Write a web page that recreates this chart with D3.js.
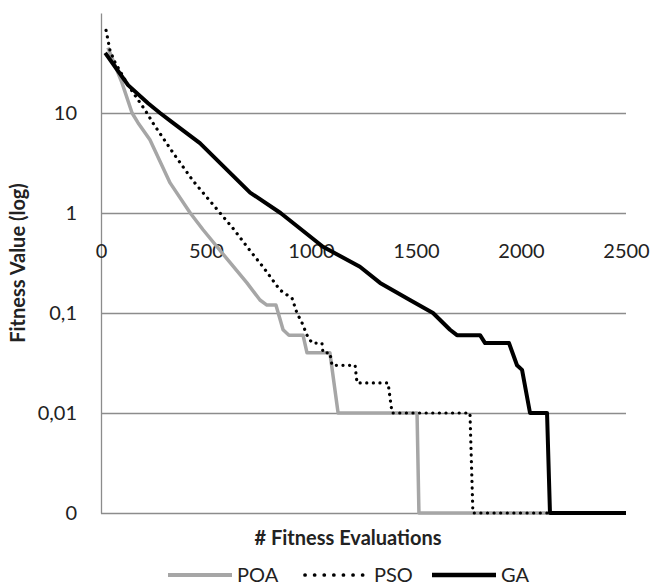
<!DOCTYPE html>
<html>
<head>
<meta charset="utf-8">
<script src="https://cdn.jsdelivr.net/npm/d3@7"></script>
<style>
  body { margin: 0; background: #fff; }
  text { font-family: Lato, "Liberation Sans", sans-serif; fill: #222; }
</style>
</head>
<body>
<svg id="chart" width="651" height="587"></svg>
<script>
// data (x = fitness evaluations, y = fitness value)
const poaX = [33, 100, 148, 176, 233, 329, 425, 486, 614, 695, 757, 790, 833, 867, 895, 962, 981, 1090, 1129, 1505, 1514, 2500];
const poaY = [45, 20, 10, 8, 5.4, 2.0, 1.0, 0.68, 0.32, 0.2, 0.135, 0.12, 0.12, 0.068, 0.06, 0.06, 0.04, 0.04, 0.01, 0.01, 0.001, 0.001];

const psoX = [24, 33, 43, 67, 129, 162, 210, 248, 343, 438, 567, 629, 710, 771, 852, 910, 933, 957, 981, 1005, 1052, 1057, 1090, 1100, 1210, 1219, 1367, 1386, 1757, 1771, 2500];
const psoY = [67, 54, 42, 32, 19, 15, 10.7, 7.9, 4.0, 2.1, 1.0, 0.7, 0.42, 0.29, 0.17, 0.14, 0.1, 0.08, 0.06, 0.05, 0.05, 0.04, 0.04, 0.03, 0.03, 0.02, 0.02, 0.01, 0.01, 0.001, 0.001];

const gaX = [20, 67, 129, 224, 281, 338, 471, 710, 855, 1057, 1233, 1329, 1471, 1581, 1662, 1695, 1805, 1829, 1943, 1981, 2005, 2043, 2124, 2138, 2500];
const gaY = [40, 29, 19, 12.5, 10, 8.1, 5.0, 1.6, 1.0, 0.46, 0.29, 0.2, 0.135, 0.1, 0.068, 0.06, 0.06, 0.05, 0.05, 0.03, 0.027, 0.01, 0.01, 0.001, 0.001];

const xTicks = [0, 500, 1000, 1500, 2000, 2500];
const yTicks = [0.001, 0.01, 0.1, 1, 10];
const yTickLabels = ['0', '0,01', '0,1', '1', '10'];

const seriesNames = ['POA', 'PSO', 'GA'];

const svg = d3.select('#chart');

const x = d3.scaleLinear().domain([0, 2500]).range([101, 626]);
const y = d3.scaleLog().domain([0.001, 100]).range([513, 13]);

// y axis + gridlines
const yAxis = svg.append('g')
    .attr('transform', 'translate(101,0)')
    .call(d3.axisLeft(y)
        .tickValues(yTicks)
        .tickFormat((d, i) => yTickLabels[i])
        .tickSizeInner(-525)
        .tickSizeOuter(0)
        .tickPadding(24));
yAxis.selectAll('.tick line').attr('stroke', '#8c8c8c').attr('stroke-width', 1.3);
yAxis.select('.domain').attr('stroke', '#8c8c8c').attr('stroke-width', 1.3);
yAxis.selectAll('text').style('font-size', '20px').attr('fill', '#222');

// x axis, crossing at 1 (excel log default)
const xAxis = svg.append('g')
    .attr('transform', `translate(0,${y(1)})`)
    .call(d3.axisBottom(x).tickValues(xTicks).tickFormat(d3.format('d')).tickSize(0).tickPadding(31));
xAxis.select('.domain').remove();
xAxis.selectAll('text').style('font-size', '20px').attr('fill', '#222');

// lines
const line = d3.line().x(d => x(d[0])).y(d => y(d[1]));
const pts = (xs, ys) => xs.map((v, i) => [v, ys[i]]);

const styles = {
    POA: { color: '#a6a6a6', width: 3.5, dash: null, cap: 'butt' },
    PSO: { color: '#000', width: 3.2, dash: '0.1,6.5', cap: 'round' },
    GA: { color: '#000', width: 4, dash: null, cap: 'butt' },
};
const seriesData = {
    POA: pts(poaX, poaY),
    PSO: pts(psoX, psoY),
    GA: pts(gaX, gaY),
};

seriesNames.forEach(name => {
    const s = styles[name];
    svg.append('path')
        .datum(seriesData[name])
        .attr('d', line)
        .attr('fill', 'none')
        .attr('stroke', s.color)
        .attr('stroke-width', s.width)
        .attr('stroke-linecap', s.cap)
        .attr('stroke-linejoin', 'round')
        .attr('stroke-dasharray', s.dash);
});

// axis titles
svg.append('text')
    .attr('x', 348).attr('y', 545)
    .attr('text-anchor', 'middle')
    .style('font-size', '20px').style('font-weight', 'bold')
    .text('# Fitness Evaluations');

svg.append('text')
    .attr('transform', 'translate(25,263) rotate(-90)')
    .attr('text-anchor', 'middle')
    .style('font-size', '20px').style('font-weight', 'bold')
    .text('Fitness Value (log)');

// legend
const legendPos = [168, 305, 432];
seriesNames.forEach((name, i) => {
    const s = styles[name];
    const g = svg.append('g').attr('transform', `translate(${legendPos[i]},575)`);
    g.append('line')
        .attr('x1', 0).attr('x2', 64)
        .attr('stroke', s.color)
        .attr('stroke-width', s.width + 0.5)
        .attr('stroke-linecap', s.cap)
        .attr('stroke-dasharray', s.dash ? '0.1,9.5' : null);
    g.append('text')
        .attr('x', 69).attr('y', 7)
        .style('font-size', '20px')
        .text(name);
});
</script>
</body>
</html>
